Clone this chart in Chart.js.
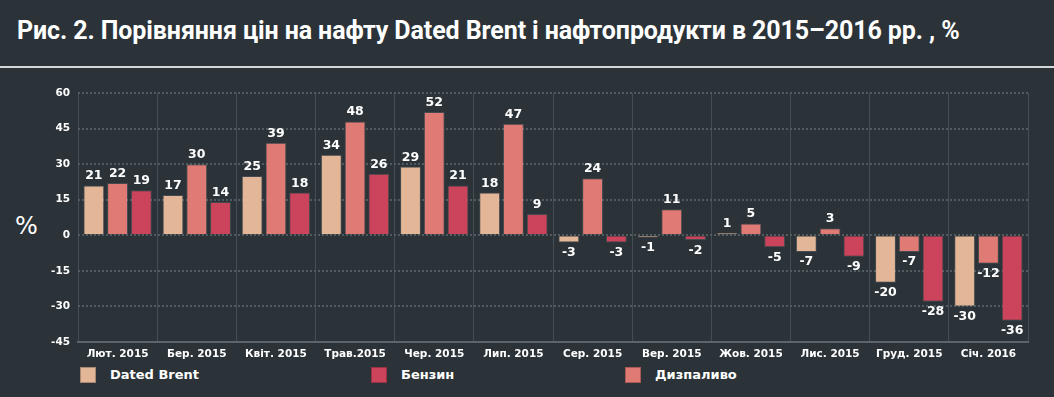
<!DOCTYPE html>
<html>
<head>
<meta charset="utf-8">
<script src="https://cdn.jsdelivr.net/npm/chart.js@4/dist/chart.umd.min.js"></script>
<style>
  html, body { margin: 0; padding: 0; }
  body { width: 1054px; height: 397px; background: #2b3338; position: relative; overflow: hidden; font-family: "DejaVu Sans", sans-serif; color: #fff; }
  #title { position: absolute; left: 17px; top: 16px; font-family: "Roboto", sans-serif; font-weight: bold; font-size: 25px; white-space: nowrap; letter-spacing: -0.1px; }
  #rule { position: absolute; left: 0; top: 66px; width: 1054px; height: 2px; background: #d4d6d7; }
  #pct { position: absolute; left: 15px; top: 212px; font-size: 24px; font-family: "DejaVu Sans", sans-serif; }
  #chart-box { position: absolute; left: 0; top: 75px; width: 1054px; height: 290px; }
  .leg { position: absolute; top: 367px; font-size: 13px; font-weight: bold; line-height: 16px; white-space: nowrap; }
  .leg span { display: inline-block; width: 16px; height: 16px; vertical-align: top; margin-right: 14px; box-sizing: border-box; border: 1px solid rgba(0,0,0,0.25); }
</style>
</head>
<body>
<div id="title">Рис. 2. Порівняння цін на нафту Dated Brent і нафтопродукти в 2015–2016 рр. , %</div>
<div id="rule"></div>
<div id="pct">%</div>
<div id="chart-box"><canvas id="bar-chart"></canvas></div>
<div class="leg" style="left:80px"><span style="background:#e2b696"></span>Dated Brent</div>
<div class="leg" style="left:371px"><span style="background:#cc445b"></span>Бензин</div>
<div class="leg" style="left:625px"><span style="background:#e07a74"></span>Дизпаливо</div>
<script>
const months = ["Лют. 2015", "Бер. 2015", "Квіт. 2015", "Трав.2015", "Чер. 2015", "Лип. 2015",
                "Сер. 2015", "Вер. 2015", "Жов. 2015", "Лис. 2015", "Груд. 2015", "Січ. 2016"];
const brent  = [21, 17, 25, 34, 29, 18, -3, -1, 1, -7, -20, -30];
const diesel = [22, 30, 39, 48, 52, 47, 24, 11, 5, 3, -7, -12];
const petrol = [19, 14, 18, 26, 21, 9, -3, -2, -5, -9, -28, -36];

const colors = {
    brent: "#e2b696",
    diesel: "#e07a74",
    petrol: "#cc445b"
};

// value labels above / below each bar
const barLabels = {
    id: "barLabels",
    afterDatasetsDraw(chart) {
        const ctx = chart.ctx;
        ctx.save();
        ctx.font = "bold 12.5px 'DejaVu Sans', sans-serif";
        ctx.fillStyle = "#ffffff";
        ctx.textAlign = "center";
        chart.data.datasets.forEach((ds, i) => {
            chart.getDatasetMeta(i).data.forEach((bar, j) => {
                const v = ds.data[j];
                if (v >= 0) {
                    ctx.textBaseline = "bottom";
                    ctx.fillText(String(v), bar.x, bar.y - 3);
                } else {
                    ctx.textBaseline = "top";
                    ctx.fillText(String(v), bar.x, bar.y + 4);
                }
            });
        });
        ctx.restore();
    }
};

function makeSet(label, data, color) {
    return {
        label: label,
        data: data,
        backgroundColor: color,
        borderColor: "rgba(255,255,255,0.12)",
        borderWidth: 1,
        categoryPercentage: 0.9,
        barPercentage: 0.88
    };
}

new Chart(document.getElementById("bar-chart"), {
    type: "bar",
    data: {
        labels: months,
        datasets: [
            makeSet("Dated Brent", brent, colors.brent),
            makeSet("Дизпаливо", diesel, colors.diesel),
            makeSet("Бензин", petrol, colors.petrol)
        ]
    },
    options: {
        responsive: true,
        maintainAspectRatio: false,
        animation: false,
        layout: { padding: { top: 18, right: 26, left: 0, bottom: 0 } },
        scales: {
            x: {
                grid: { color: "#454e53", lineWidth: 1, drawTicks: false },
                border: { color: "#5b656a", width: 2 },
                ticks: {
                    color: "#ffffff",
                    padding: 6,
                    maxRotation: 0,
                    autoSkip: false,
                    font: { family: "'DejaVu Sans', sans-serif", size: 10.5, weight: "bold" }
                },
                afterFit: function(scale) { scale.height = 23; }
            },
            y: {
                min: -45,
                max: 60,
                grid: { color: "#525b60", lineWidth: 2, drawTicks: false },
                border: { display: false, dash: [2, 2] },
                ticks: {
                    stepSize: 15,
                    color: "#ffffff",
                    padding: 8,
                    font: { family: "'DejaVu Sans', sans-serif", size: 10.5, weight: "bold" }
                },
                afterFit: function(scale) { scale.width = 78; }
            }
        },
        plugins: {
            legend: { display: false },
            tooltip: { enabled: false }
        }
    },
    plugins: [barLabels]
});
</script>
</body>
</html>
